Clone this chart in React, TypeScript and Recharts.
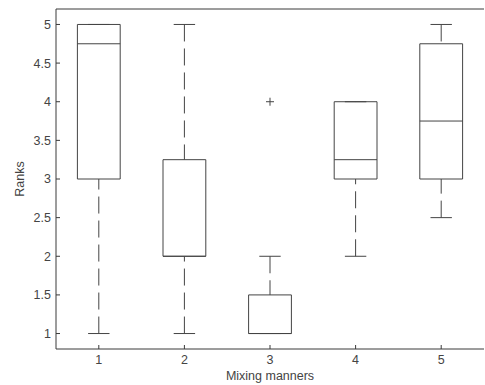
import React from 'react';
import { ComposedChart, XAxis, YAxis, ReferenceArea, ReferenceLine, Scatter } from 'recharts';

const categories = [1, 2, 3, 4, 5];
const lowerWhisker = [1, 1, 1, 2, 2.5];
const q1 = [3, 2, 1, 3, 3];
const median = [4.75, 2, 1, 3.25, 3.75];
const q3 = [5, 3.25, 1.5, 4, 4.75];
const upperWhisker = [5, 5, 2, 4, 5];
const outliers = [{ category: 3, value: 4 }];
const yTicks = [1, 1.5, 2, 2.5, 3, 3.5, 4, 4.5, 5];
const xLabel = 'Mixing manners';
const yLabel = 'Ranks';

const BOX_HALF = 0.25;
const CAP_HALF = 0.125;
const LINE = '#444';
const AXIS = '#3a3a3a';
const TEXT = '#444';
const FONT = { fontFamily: 'Liberation Sans, Arial, sans-serif', fontSize: 12.5, fill: TEXT };

const PlusShape = (props: any) => {
  const { cx, cy } = props;
  return (
    <g stroke={LINE} strokeWidth={1}>
      <line x1={cx - 4} y1={cy} x2={cx + 4} y2={cy} />
      <line x1={cx} y1={cy - 4} x2={cx} y2={cy + 4} />
    </g>
  );
};

export default function App() {
  const ax = { xAxisId: 'b', yAxisId: 'l' } as const;
  return (
    <div style={{ position: 'absolute', left: 0, top: 0, width: 485, height: 385, background: '#fff' }}>
      <ComposedChart width={485} height={385} margin={{ top: 8, right: 0, bottom: 0, left: 0 }}>
        <XAxis
          xAxisId="b"
          type="number"
          dataKey="category"
          domain={[0.5, 5.5]}
          ticks={categories}
          height={36}
          tickSize={-4}
          tickMargin={10}
          stroke={AXIS}
          tick={FONT}
          label={{ value: xLabel, position: 'insideBottom', offset: 5, style: FONT }}
        />
        <XAxis
          xAxisId="t"
          orientation="top"
          type="number"
          domain={[0.5, 5.5]}
          ticks={categories}
          height={1}
          tickSize={-4}
          tick={false}
          stroke={AXIS}
        />
        <YAxis
          yAxisId="l"
          type="number"
          domain={[0.8, 5.2]}
          ticks={yTicks}
          width={56}
          tickSize={-4}
          tickMargin={9}
          stroke={AXIS}
          tick={FONT}
          label={{ value: yLabel, angle: -90, position: 'insideLeft', offset: 20, style: { ...FONT, textAnchor: 'middle' } }}
        />
        <YAxis
          yAxisId="r"
          orientation="right"
          type="number"
          domain={[0.8, 5.2]}
          ticks={yTicks}
          width={1}
          tickSize={-4}
          tick={false}
          axisLine={false}
          stroke={AXIS}
        />
        {categories.map((c, i) => (
          <ReferenceLine
            key={`lw${c}`}
            {...ax}
            segment={[{ x: c, y: lowerWhisker[i] }, { x: c, y: q1[i] }]}
            stroke={LINE}
            strokeDasharray="17 7"
          />
        ))}
        {categories.map((c, i) => (
          <ReferenceLine
            key={`uw${c}`}
            {...ax}
            segment={[{ x: c, y: upperWhisker[i] }, { x: c, y: q3[i] }]}
            stroke={LINE}
            strokeDasharray="17 7"
          />
        ))}
        {categories.map((c, i) => (
          <ReferenceLine
            key={`lc${c}`}
            {...ax}
            segment={[{ x: c - CAP_HALF, y: lowerWhisker[i] }, { x: c + CAP_HALF, y: lowerWhisker[i] }]}
            stroke={LINE}
          />
        ))}
        {categories.map((c, i) => (
          <ReferenceLine
            key={`uc${c}`}
            {...ax}
            segment={[{ x: c - CAP_HALF, y: upperWhisker[i] }, { x: c + CAP_HALF, y: upperWhisker[i] }]}
            stroke={LINE}
          />
        ))}
        {categories.map((c, i) => (
          <ReferenceArea
            key={`box${c}`}
            {...ax}
            x1={c - BOX_HALF}
            x2={c + BOX_HALF}
            y1={q1[i]}
            y2={q3[i]}
            fill="none"
            fillOpacity={0}
            stroke={LINE}
            strokeOpacity={1}
          />
        ))}
        {categories.map((c, i) => (
          <ReferenceLine
            key={`md${c}`}
            {...ax}
            segment={[{ x: c - BOX_HALF, y: median[i] }, { x: c + BOX_HALF, y: median[i] }]}
            stroke={LINE}
          />
        ))}
        <Scatter
          {...ax}
          data={outliers}
          dataKey="value"
          shape={PlusShape}
          isAnimationActive={false}
        />
      </ComposedChart>
    </div>
  );
}
